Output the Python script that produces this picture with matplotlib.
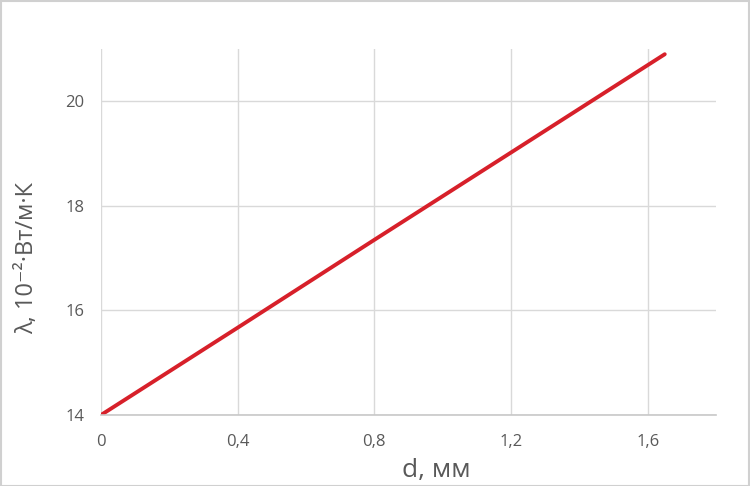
import matplotlib
matplotlib.use("Agg")
import matplotlib.pyplot as plt
from matplotlib.patches import Rectangle
from matplotlib.ticker import FuncFormatter

d_mm = [0.0, 0.4, 0.8, 1.2, 1.65]
lam = [14.0, 15.67, 17.35, 19.02, 20.9]
x_ticks = [0, 0.4, 0.8, 1.2, 1.6]
y_ticks = [14, 16, 18, 20]
x_label = "d, мм"
y_label = "λ, 10⁻²·Вт/м·К"

plt.rcParams['font.family'] = ['Liberation Sans Narrow', 'Open Sans', 'DejaVu Sans']

fig = plt.figure(figsize=(7.5, 4.86), dpi=100)
fig.patches.append(Rectangle((0.001, 0.001), 0.997, 0.996, transform=fig.transFigure,
                             fill=False, edgecolor='#d0d0d0', linewidth=1.5))
ax = fig.add_axes([101/750, 1-415/486, 615/750, 366/486])

ax.plot(d_mm, lam, color='#d7202a', linewidth=2.8, solid_capstyle='round')

ax.set_xlim(0, 1.8)
ax.set_ylim(14, 21)
ax.set_xticks(x_ticks)
ax.set_yticks(y_ticks)
fmt = FuncFormatter(lambda v, p: ('%g' % v).replace('.', ','))
ax.xaxis.set_major_formatter(fmt)
ax.yaxis.set_major_formatter(fmt)
ax.grid(True, color='#d9d9d9', linewidth=1.0)
ax.set_axisbelow(True)
for s in ['top', 'right', 'left']:
    ax.spines[s].set_visible(False)
ax.spines['bottom'].set_color('#c8c8c8')
ax.spines['bottom'].set_linewidth(1.2)
ax.tick_params(length=0, labelsize=12, labelcolor='#595959')
ax.tick_params(axis='x', pad=14)
ax.tick_params(axis='y', pad=12)

ax.set_xlabel(x_label, fontsize=19, color='#595959', family=['Open Sans', 'DejaVu Sans'])
ax.set_ylabel(y_label, fontsize=17, color='#595959', family=['Open Sans', 'DejaVu Sans'])
ax.xaxis.set_label_coords(0.545, -0.118)
ax.yaxis.set_label_coords(-0.1, 0.43)

fig.savefig('out.png', dpi=100)
